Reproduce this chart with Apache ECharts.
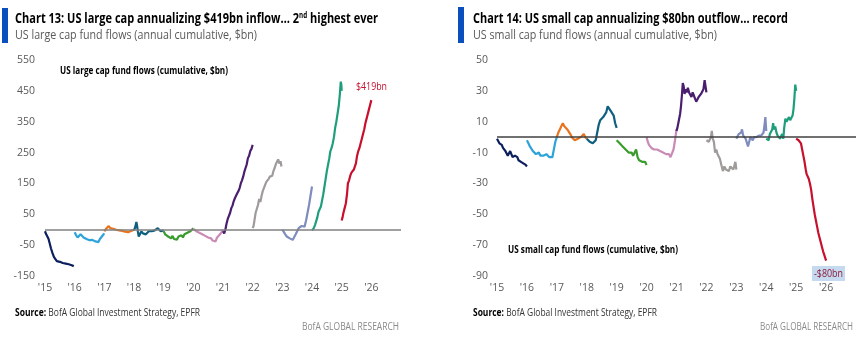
<!DOCTYPE html>
<html><head><meta charset="utf-8">
<script src="https://cdn.jsdelivr.net/npm/echarts@6/dist/echarts.min.js"></script>
<style>html,body{margin:0;padding:0;background:#fff}#c{width:859px;height:339px}</style>
</head><body><div id="c"></div>
<script>
// ---- categories / ticks ----
const years = [2015,2016,2017,2018,2019,2020,2021,2022,2023,2024,2025];
const xTickYears = [2015,2016,2017,2018,2019,2020,2021,2022,2023,2024,2025,2026];
const largeTicks = [-150,-50,50,150,250,350,450,550];
const smallTicks = [-90,-70,-50,-30,-10,10,30,50];

// ---- US large cap cumulative flows ($bn): [fraction of year, value] ----
const L2015 = [[0,-5],[0.04,-15],[0.08,-22],[0.12,-30],[0.16,-45],[0.2,-60],[0.25,-75],[0.3,-88],[0.35,-95],[0.4,-102],[0.45,-106],[0.5,-104],[0.55,-110],[0.6,-108],[0.65,-113],[0.7,-110],[0.75,-116],[0.8,-112],[0.85,-117],[0.9,-115],[0.97,-118]];
const L2016 = [[0,-8],[0.05,-18],[0.1,-25],[0.15,-20],[0.2,-15],[0.25,-18],[0.3,-25],[0.35,-22],[0.4,-30],[0.45,-36],[0.5,-34],[0.55,-40],[0.6,-33],[0.65,-30],[0.7,-38],[0.75,-44],[0.8,-40],[0.85,-30],[0.9,-25],[0.95,-18],[1.0,-12]];
const L2017 = [[0,-5],[0.05,2],[0.1,8],[0.15,12],[0.2,5],[0.25,10],[0.3,3],[0.35,6],[0.4,0],[0.45,4],[0.5,-2],[0.55,2],[0.6,-4],[0.65,0],[0.7,-6],[0.75,-12],[0.8,-8],[0.85,-10],[0.9,-4],[0.95,-2],[1.0,0]];
const L2018 = [[0,-2],[0.04,8],[0.08,25],[0.1,15],[0.13,-5],[0.16,-22],[0.2,-15],[0.25,-5],[0.3,-12],[0.35,-8],[0.4,-15],[0.45,-10],[0.5,-5],[0.55,-10],[0.6,-5],[0.65,-8],[0.7,-2],[0.75,2],[0.8,5],[0.85,0],[0.9,-5],[0.95,-3],[1.0,-2]];
const L2019 = [[0,-5],[0.05,-15],[0.1,-10],[0.15,-22],[0.2,-18],[0.25,-28],[0.3,-20],[0.35,-30],[0.4,-25],[0.45,-32],[0.5,-22],[0.55,-28],[0.6,-18],[0.65,-25],[0.7,-15],[0.75,-20],[0.8,-10],[0.85,-15],[0.9,-5],[0.95,0],[1.0,5]];
const L2020 = [[0,3],[0.05,0],[0.1,-5],[0.15,-2],[0.2,-10],[0.25,-8],[0.3,-15],[0.35,-12],[0.4,-20],[0.45,-18],[0.5,-25],[0.55,-30],[0.6,-28],[0.65,-35],[0.7,-40],[0.75,-38],[0.8,-25],[0.85,-30],[0.9,-15],[0.95,-8],[1.0,0]];
const L2021 = [[0,-5],[0.04,-12],[0.08,0],[0.12,20],[0.16,35],[0.2,45],[0.24,55],[0.28,70],[0.32,78],[0.36,92],[0.4,102],[0.44,110],[0.48,118],[0.52,125],[0.56,135],[0.6,150],[0.64,160],[0.68,172],[0.72,188],[0.76,200],[0.8,212],[0.84,232],[0.88,240],[0.92,255],[0.96,262],[1.0,275]];
const L2022 = [[0,5],[0.03,12],[0.06,30],[0.1,55],[0.14,50],[0.18,80],[0.22,100],[0.26,90],[0.3,110],[0.34,125],[0.38,120],[0.42,145],[0.46,155],[0.5,150],[0.54,165],[0.58,172],[0.62,178],[0.66,175],[0.7,190],[0.74,200],[0.78,212],[0.82,220],[0.86,228],[0.9,215],[0.94,222],[0.97,205]];
const L2023 = [[0,0],[0.05,-5],[0.1,-15],[0.15,-22],[0.2,-18],[0.25,-28],[0.3,-25],[0.35,-33],[0.4,-28],[0.45,-15],[0.5,-5],[0.55,5],[0.6,0],[0.65,12],[0.7,15],[0.75,10],[0.8,30],[0.85,55],[0.9,80],[0.95,110],[1.0,140]];
const L2024 = [[0,-2],[0.03,0],[0.06,5],[0.1,15],[0.14,20],[0.18,40],[0.22,58],[0.26,62],[0.3,75],[0.34,95],[0.38,115],[0.42,140],[0.46,165],[0.5,190],[0.54,210],[0.58,230],[0.62,255],[0.66,265],[0.7,280],[0.74,300],[0.78,330],[0.82,350],[0.86,375],[0.9,400],[0.94,440],[0.97,480],[0.99,470],[1.0,450]];
const L2025 = [[0,30],[0.03,40],[0.06,55],[0.1,70],[0.14,85],[0.18,115],[0.21,150],[0.25,160],[0.29,175],[0.33,185],[0.37,182],[0.41,195],[0.44,200],[0.48,215],[0.52,240],[0.56,255],[0.6,265],[0.64,280],[0.68,295],[0.72,310],[0.76,325],[0.8,345],[0.84,360],[0.88,375],[0.92,390],[0.96,405],[1.0,420]];

// ---- US small cap cumulative flows ($bn) ----
const S2015 = [[0,-1],[0.04,-2],[0.08,-4],[0.12,-3],[0.16,-5],[0.2,-7],[0.24,-6],[0.28,-9],[0.32,-10],[0.36,-12],[0.4,-11],[0.44,-9],[0.48,-10],[0.52,-13],[0.56,-14],[0.6,-12],[0.64,-12],[0.68,-13],[0.72,-15],[0.76,-14],[0.8,-16],[0.84,-16],[0.88,-17],[0.92,-16],[0.96,-18],[1.0,-19]];
const S2016 = [[0,-2],[0.05,-4],[0.1,-6],[0.15,-7],[0.2,-9],[0.25,-10],[0.3,-11],[0.35,-12],[0.4,-10],[0.45,-12],[0.5,-11],[0.55,-12],[0.6,-13],[0.65,-11],[0.7,-12],[0.75,-13],[0.8,-12],[0.85,-13],[0.9,-8],[0.95,-3],[1.0,0]];
const S2017 = [[0,0],[0.05,3],[0.1,5],[0.15,7],[0.2,9],[0.25,7],[0.3,8],[0.35,5],[0.4,4],[0.45,2],[0.5,0],[0.55,1],[0.6,-2],[0.65,-3],[0.7,-1],[0.75,-2],[0.8,0],[0.85,1],[0.9,2],[0.95,0],[1.0,-1]];
const S2018 = [[0,-1],[0.05,-2],[0.1,-3],[0.15,-2],[0.2,-4],[0.25,-3],[0.3,-2],[0.35,3],[0.4,8],[0.45,11],[0.5,10],[0.55,13],[0.6,14],[0.65,16],[0.7,20],[0.75,19],[0.8,17],[0.85,16],[0.9,14],[0.95,9],[1.0,6]];
const S2019 = [[0,-2],[0.05,-3],[0.1,-4],[0.15,-4],[0.2,-6],[0.25,-7],[0.3,-8],[0.35,-9],[0.4,-10],[0.45,-11],[0.5,-10],[0.55,-12],[0.6,-11],[0.65,-8],[0.7,-13],[0.75,-15],[0.8,-14],[0.85,-16],[0.9,-17],[0.95,-16],[1.0,-18]];
const S2020 = [[0,0],[0.04,-3],[0.08,-5],[0.12,-6],[0.16,-7],[0.2,-6],[0.25,-8],[0.3,-9],[0.35,-8],[0.4,-7],[0.45,-9],[0.5,-8],[0.55,-10],[0.6,-9],[0.65,-11],[0.7,-12],[0.75,-11],[0.8,-13],[0.85,-12],[0.9,-8],[0.95,-2],[1.0,5]];
const S2021 = [[0,4],[0.03,6],[0.06,9],[0.09,8],[0.12,15],[0.15,20],[0.18,27],[0.21,35],[0.24,33],[0.27,28],[0.3,31],[0.34,29],[0.38,32],[0.42,29],[0.46,28],[0.5,26],[0.54,29],[0.58,27],[0.62,25],[0.66,23],[0.7,24],[0.74,26],[0.78,26],[0.82,28],[0.86,29],[0.9,31],[0.94,37],[0.97,33],[1.0,29]];
const S2022 = [[0,-2],[0.04,-1],[0.08,-3],[0.12,-3],[0.15,0],[0.18,4],[0.21,-1],[0.25,-3],[0.29,-10],[0.33,-8],[0.37,-11],[0.41,-10],[0.45,-14],[0.5,-18],[0.55,-22],[0.6,-19],[0.65,-21],[0.7,-20],[0.75,-22],[0.8,-19],[0.85,-20],[0.9,-21],[0.94,-18],[0.97,-16],[1.0,-21]];
const S2023 = [[0,-1],[0.04,0],[0.08,2],[0.12,1],[0.16,3],[0.19,5],[0.23,1],[0.27,0],[0.31,-1],[0.35,-2],[0.39,-6],[0.43,-3],[0.47,0],[0.51,-1],[0.55,-2],[0.59,0],[0.63,1],[0.67,0],[0.71,0],[0.75,1],[0.79,2],[0.83,1],[0.87,2],[0.91,3],[0.95,9],[0.97,13],[1.0,4]];
const S2024 = [[0,-1],[0.04,0],[0.08,-2],[0.12,2],[0.16,3],[0.2,5],[0.23,9],[0.26,5],[0.3,7],[0.34,3],[0.38,1],[0.42,2],[0.46,-1],[0.5,0],[0.53,2],[0.57,-1],[0.6,6],[0.64,12],[0.68,10],[0.72,11],[0.76,13],[0.8,11],[0.84,12],[0.88,14],[0.91,18],[0.94,25],[0.97,34],[1.0,30]];
const S2025 = [[0,-1],[0.04,-1],[0.08,-2],[0.12,-2],[0.16,-4],[0.2,-8],[0.24,-12],[0.28,-16],[0.32,-21],[0.35,-24],[0.38,-25],[0.42,-27],[0.46,-30],[0.5,-34],[0.54,-40],[0.58,-45],[0.62,-50],[0.66,-54],[0.7,-58],[0.74,-62],[0.78,-65],[0.82,-68],[0.86,-71],[0.9,-74],[0.95,-77],[1.0,-80]];

const largeSeries = [L2015,L2016,L2017,L2018,L2019,L2020,L2021,L2022,L2023,L2024,L2025];
const smallSeries = [S2015,S2016,S2017,S2018,S2019,S2020,S2021,S2022,S2023,S2024,S2025];

// ---- styles ----
const palette = ['#0b1f5e','#2ea3da','#e8731f','#0f5f7f','#3a9c2d','#c98bb5','#4a1e6e','#a09b9b','#7e8dbd','#1f9e7c','#c8102e'];
const FAM = "'Open Sans'";

const mctx = document.createElement('canvas').getContext('2d');
function tw(text, size, weight) {
  mctx.font = (weight || 'normal') + ' ' + size + 'px ' + FAM;
  return mctx.measureText(text).width;
}
// fitted text: x,y = left/middle; target = desired rendered width
function ftext(x, y, target, parts) {
  let total = 0;
  const rich = {};
  let str = '';
  parts.forEach((p, i) => {
    total += tw(p.t, p.size, p.weight);
    const k = 'p' + i;
    rich[k] = {fontFamily: FAM, fontSize: p.size, fontWeight: p.weight || 'normal', fill: p.color,
      verticalAlign: p.sup ? 'top' : 'middle', backgroundColor: p.bg, padding: p.pad};
    str += '{' + k + '|' + p.t + '}';
  });
  return {type: 'text', x: x, y: y, scaleX: target / total, silent: true,
    style: {text: str, rich: rich, verticalAlign: 'middle', align: 'left'}};
}

const chart = echarts.init(document.getElementById('c'), null, {renderer:'canvas'});

function mk(arrs, idx) {
  return arrs.map((arr, i) => ({
    type: 'line', xAxisIndex: idx, yAxisIndex: idx, z: 3,
    showSymbol: false, symbol: 'none', silent: true, animation: false,
    lineStyle: {color: palette[i], width: 2.2},
    data: arr.map(([f, v]) => [years[i] + f, v])
  }));
}
function zero(idx, color) {
  return {type:'line', xAxisIndex: idx, yAxisIndex: idx, z: 1, data: [], silent:true, animation:false,
    markLine: {silent:true, symbol:'none', animation:false, label:{show:false},
      lineStyle:{color: color, width: 1.5, type:'solid'}, data:[{yAxis:0}]}};
}
function xAxisCfg(idx) {
  return {type:'value', gridIndex: idx, min: 2015, max: 2027, interval: 1,
    axisLine:{show:false}, axisTick:{show:false}, splitLine:{show:false},
    axisLabel:{color:'#595959', fontSize: 10.5, fontFamily: FAM, margin: 7,
      formatter: v => xTickYears.includes(v) ? "'" + String(v).slice(2) : ''}};
}
function yAxisCfg(idx, min, max, interval, ticks, margin) {
  return {type:'value', gridIndex: idx, min, max, interval,
    axisLine:{show:false}, axisTick:{show:false}, splitLine:{show:false},
    axisLabel:{color:'#595959', fontSize: 10.5, fontFamily: FAM, margin: margin,
      formatter: v => ticks.includes(v) ? String(v) : ''}};
}

const option = {
  animation: false,
  grid: [
    {left: 45, right: 458, top: 60, bottom: 63},
    {left: 497, right: 1, top: 60, bottom: 63}
  ],
  xAxis: [xAxisCfg(0), xAxisCfg(1)],
  yAxis: [yAxisCfg(0, -150, 550, 100, largeTicks, 10), yAxisCfg(1, -90, 50, 20, smallTicks, 9)],
  series: [zero(0,'#808080'), zero(1,'#404040')].concat(mk(largeSeries, 0), mk(smallSeries, 1)),
  graphic: [
    {type:'rect', left: 2, top: 8, shape:{width:6, height:35}, style:{fill:'#0b4fbf'}},
    {type:'rect', left: 458, top: 7, shape:{width:6, height:36}, style:{fill:'#0b4fbf'}},
    ftext(15, 19, 363, [
      {t:'Chart 13: US large cap annualizing $419bn inflow… 2', size:14, weight:'bold', color:'#000'},
      {t:'nd', size:8, weight:'bold', color:'#000', sup:true},
      {t:' highest ever', size:14, weight:'bold', color:'#000'}]),
    ftext(15, 35, 242, [{t:'US large cap fund flows (annual cumulative, $bn)', size:13, color:'#595959'}]),
    ftext(473, 19, 315, [{t:'Chart 14: US small cap annualizing $80bn outflow… record', size:14, weight:'bold', color:'#000'}]),
    ftext(473, 35, 244, [{t:'US small cap fund flows (annual cumulative, $bn)', size:13, color:'#595959'}]),
    ftext(60, 71, 168, [{t:'US large cap fund flows (cumulative, $bn)', size:10.5, weight:'bold', color:'#000'}]),
    ftext(508, 250, 170, [{t:'US small cap fund flows (cumulative, $bn)', size:10.5, weight:'bold', color:'#000'}]),
    ftext(356, 87, 31, [{t:'$419bn', size:11, color:'#c8102e'}]),
    {type:'rect', left: 812, top: 266, shape:{width:33, height:15}, style:{fill:'#c5d9ef'}},
    ftext(814, 274, 29, [{t:'-$80bn', size:11, color:'#8b1a3a'}]),
    ftext(15, 313, 185, [{t:'Source:', size:10, weight:'bold', color:'#000'}, {t:' BofA Global Investment Strategy, EPFR', size:10, color:'#333'}]),
    ftext(473, 313, 184, [{t:'Source:', size:10, weight:'bold', color:'#000'}, {t:' BofA Global Investment Strategy, EPFR', size:10, color:'#333'}]),
    ftext(302, 327, 97, [{t:'BofA GLOBAL RESEARCH', size:10, color:'#8a8a8a'}]),
    ftext(760, 327, 93, [{t:'BofA GLOBAL RESEARCH', size:10, color:'#8a8a8a'}])
  ]
};
chart.setOption(option);
</script>
</body></html>
